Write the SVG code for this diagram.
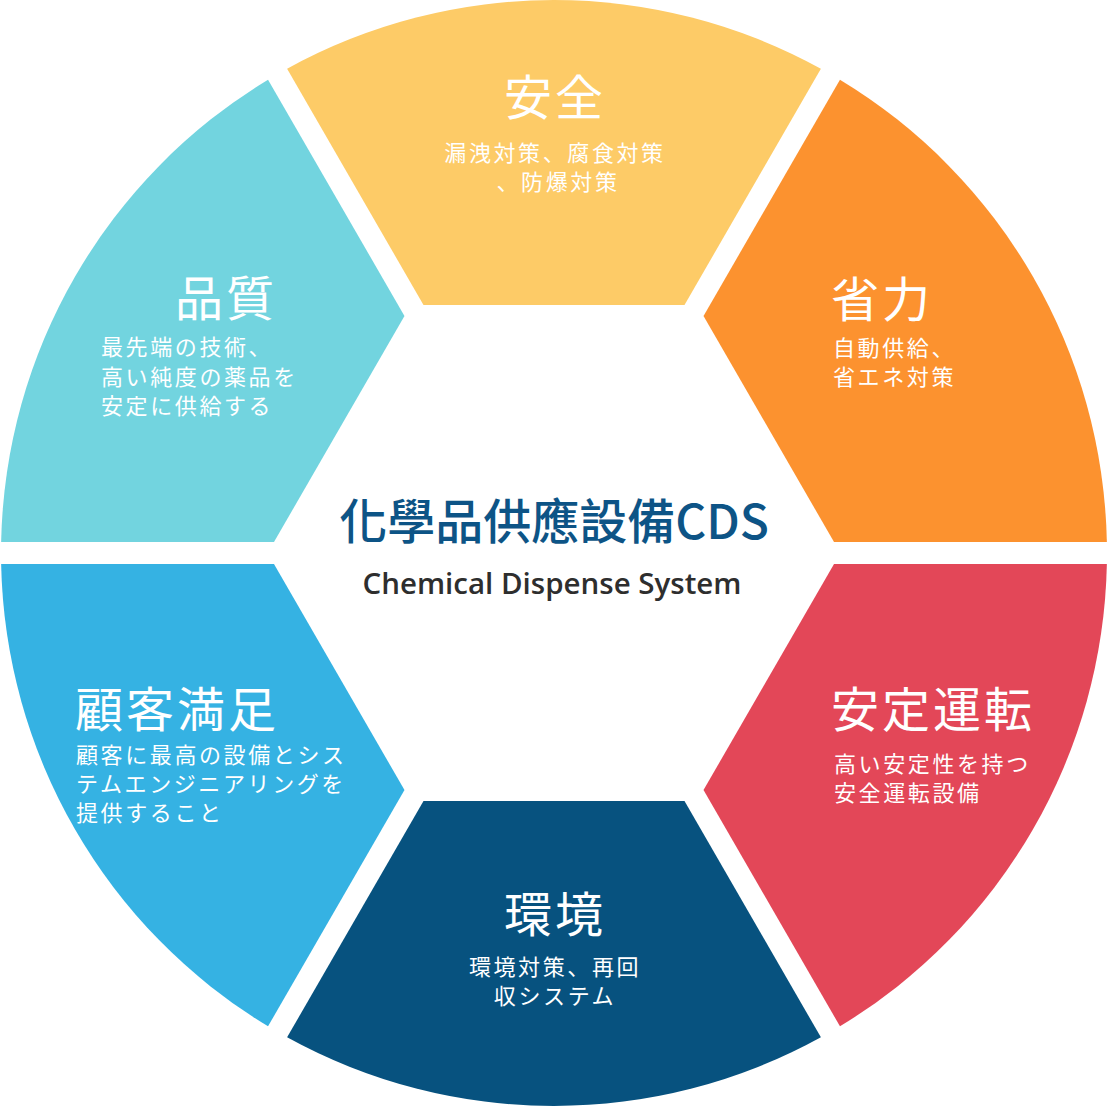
<svg xmlns="http://www.w3.org/2000/svg" width="1108" height="1108" viewBox="0 0 1108 1108">
  <defs>
    <path id="seg" d="M -130.5,-248 L -266.9,-484.3 A 553 553 0 0 1 266.9,-484.3 L 130.5,-248 Z"/>
  </defs>
  <style>
    .t { font-family: "Noto Sans CJK JP", "Noto Sans", sans-serif; fill: #ffffff; }
    .title { font-size: 48px; font-weight: 400; letter-spacing: 3px; }
    .sub { font-size: 22px; font-weight: 400; letter-spacing: 2.6px; }
    .mid { text-anchor: middle; }
  </style>
  <rect x="0" y="0" width="1108" height="1108" fill="#ffffff"/>

  <g id="anzen">
    <use href="#seg" transform="translate(554,553)" fill="#FDCB67"/>
    <text class="t title mid" x="555" y="115">安全</text>
    <text class="t sub mid" x="555" y="161">漏洩対策、腐食対策</text>
    <text class="t sub mid" x="558" y="190">、防爆対策</text>
  </g>

  <g id="shouryoku">
    <use href="#seg" transform="translate(554,553) rotate(60)" fill="#FC922F"/>
    <text class="t title" x="831" y="317">省力</text>
    <text class="t sub" x="833" y="356">自動供給、</text>
    <text class="t sub" x="833" y="385">省エネ対策</text>
  </g>

  <g id="antei">
    <use href="#seg" transform="translate(554,553) rotate(120)" fill="#E34758"/>
    <text class="t title" x="831" y="727">安定運転</text>
    <text class="t sub" x="834" y="772">高い安定性を持つ</text>
    <text class="t sub" x="834" y="801">安全運転設備</text>
  </g>

  <g id="kankyou">
    <use href="#seg" transform="translate(554,553) rotate(180)" fill="#07527F"/>
    <text class="t title mid" x="555" y="932">環境</text>
    <text class="t sub mid" x="555" y="975">環境対策、再回</text>
    <text class="t sub mid" x="555" y="1004">収システム</text>
  </g>

  <g id="kokyaku">
    <use href="#seg" transform="translate(554,553) rotate(240)" fill="#35B2E3"/>
    <text class="t title" x="75" y="727">顧客満足</text>
    <text class="t sub" x="76" y="763">顧客に最高の設備とシス</text>
    <text class="t sub" x="76" y="792">テムエンジニアリングを</text>
    <text class="t sub" x="76" y="821">提供すること</text>
  </g>

  <g id="hinshitsu">
    <use href="#seg" transform="translate(554,553) rotate(300)" fill="#72D4DF"/>
    <text class="t title" x="175" y="316">品質</text>
    <text class="t sub" x="101" y="355">最先端の技術、</text>
    <text class="t sub" x="101" y="385">高い純度の薬品を</text>
    <text class="t sub" x="101" y="414">安定に供給する</text>
  </g>

  <g id="center">
    <text x="554" y="539" text-anchor="middle" font-family="Noto Sans CJK TC, Noto Sans, sans-serif" font-size="48" font-weight="500" fill="#0D5486">化學品供應設備CDS</text>
    <text x="552" y="594" text-anchor="middle" font-family="Open Sans, Noto Sans, sans-serif" font-size="29.5" font-weight="600" fill="#2E2E2E">Chemical Dispense System</text>
  </g>
</svg>
